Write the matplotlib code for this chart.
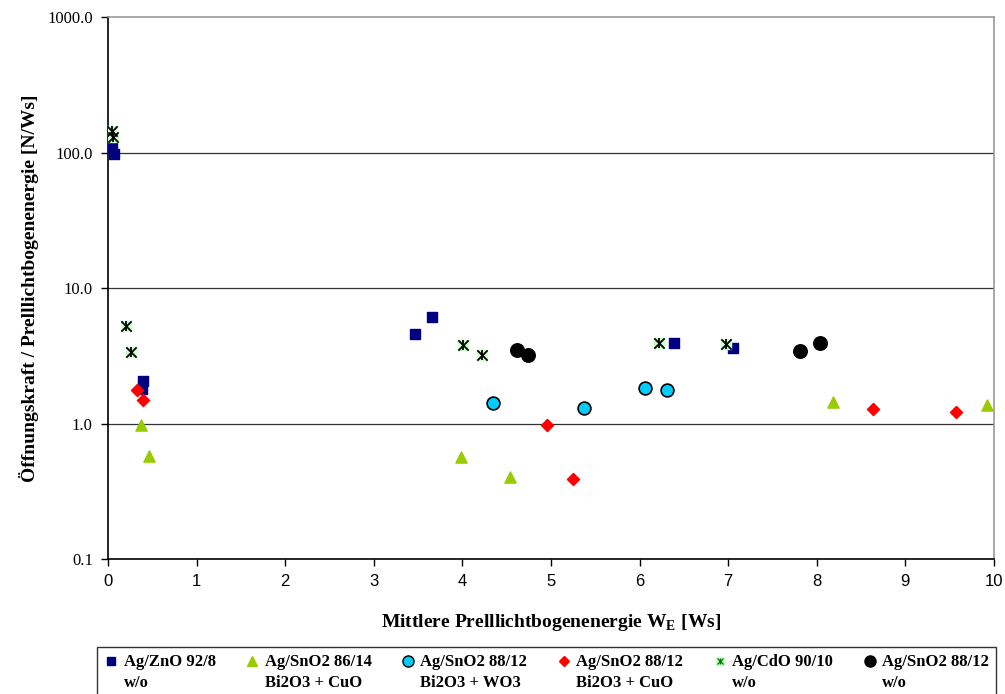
import matplotlib
matplotlib.use("Agg")
import matplotlib.pyplot as plt
from matplotlib.ticker import FixedLocator, NullLocator, FuncFormatter
from matplotlib.lines import Line2D
from matplotlib.legend_handler import HandlerLine2D
from matplotlib.transforms import Affine2D

SERIF = "Liberation Serif"
SANS = "Liberation Sans"

# Ag/ZnO 92/8 w/o
zno_x = [0.05, 0.07, 0.40, 0.38, 3.47, 3.66, 6.39, 7.05]
zno_y = [108, 97, 2.05, 1.80, 4.6, 6.1, 3.9, 3.6]

# Ag/SnO2 86/14 Bi2O3 + CuO
sno2_86_x = [0.37, 0.46, 3.98, 4.54, 8.18, 9.92]
sno2_86_y = [0.97, 0.58, 0.57, 0.40, 1.45, 1.38]

# Ag/SnO2 88/12 Bi2O3 + WO3
sno2_wo3_x = [4.34, 5.37, 6.06, 6.31]
sno2_wo3_y = [1.41, 1.31, 1.82, 1.76]

# Ag/SnO2 88/12 Bi2O3 + CuO
sno2_cuo_x = [0.33, 0.40, 4.95, 5.25, 8.64, 9.57]
sno2_cuo_y = [1.78, 1.49, 0.98, 0.39, 1.28, 1.22]

# Ag/CdO 90/10 w/o
cdo_x = [0.04, 0.06, 0.20, 0.26, 4.01, 4.22, 6.22, 6.97]
cdo_y = [145, 130, 5.2, 3.35, 3.8, 3.2, 3.95, 3.85]

# Ag/SnO2 88/12 w/o
sno2_wo_x = [4.62, 4.74, 7.81, 8.04]
sno2_wo_y = [3.5, 3.2, 3.4, 3.95]

labels = [
    "Ag/ZnO 92/8\nw/o",
    "Ag/SnO2 86/14\nBi2O3 + CuO",
    "Ag/SnO2 88/12\nBi2O3 + WO3",
    "Ag/SnO2 88/12\nBi2O3 + CuO",
    "Ag/CdO 90/10\nw/o",
    "Ag/SnO2 88/12\nw/o",
]

y_ticks = [0.1, 1, 10, 100, 1000]
x_ticks = list(range(0, 11))


class TopHandler(HandlerLine2D):
    # put the legend marker next to the first text line, like Excel does
    def create_artists(self, legend, orig_handle, xdescent, ydescent,
                       width, height, fontsize, trans):
        shifted = Affine2D().translate(0, 8.5) + trans
        return super().create_artists(legend, orig_handle, xdescent, ydescent,
                                      width, height, fontsize, shifted)


fig = plt.figure(figsize=(10.05, 6.94), dpi=100)
ax = fig.add_axes([0.1075, 0.1945, 0.8815, 0.781])

ax.set_yscale("log")
ax.set_xlim(0, 10)
ax.set_ylim(0.1, 1000)

for y in [1, 10, 100]:
    ax.axhline(y, color="#333333", linewidth=0.9, zorder=1)

ax.scatter(zno_x, zno_y, marker="s", s=60, color="#000080", zorder=3)
ax.scatter(sno2_86_x, sno2_86_y, marker="^", s=65, color="#99CC00", zorder=3)
ax.scatter(sno2_wo3_x, sno2_wo3_y, marker="o", s=85, facecolor="#00CCFF",
           edgecolor="black", linewidth=1.2, zorder=3)
ax.scatter(sno2_cuo_x, sno2_cuo_y, marker="D", s=38, color="#FF0000", zorder=3)
ax.scatter(cdo_x, cdo_y, marker="s", s=60, color="#CCFFCC", zorder=3)
ax.scatter(cdo_x, cdo_y, marker="x", s=55, color="black", linewidth=1.3, zorder=4)
ax.scatter(cdo_x, cdo_y, marker="|", s=55, color="black", linewidth=1.3, zorder=4)
ax.scatter(sno2_wo_x, sno2_wo_y, marker="o", s=95, color="black", zorder=3)

ax.yaxis.set_major_locator(FixedLocator(y_ticks))
ax.yaxis.set_minor_locator(NullLocator())
ax.yaxis.set_major_formatter(FuncFormatter(lambda v, p: f"{v:.1f}"))
ax.set_xticks(x_ticks)

for lbl in ax.get_yticklabels():
    lbl.set_fontfamily(SERIF)
    lbl.set_fontsize(12)
for lbl in ax.get_xticklabels():
    lbl.set_fontfamily(SANS)
    lbl.set_fontsize(12)

ax.tick_params(axis="both", direction="out", length=5, width=1, color="black", pad=6)

ax.spines["left"].set_color("black")
ax.spines["bottom"].set_color("black")
ax.spines["top"].set_color("#999999")
ax.spines["right"].set_color("#999999")
for sp in ax.spines.values():
    sp.set_linewidth(1.2)

ax.set_xlabel("Mittlere Prelllichtbogenenergie W$_\\mathregular{E}$ [Ws]",
              fontfamily=SERIF, fontsize=14, fontweight="bold", labelpad=16)
ax.set_ylabel("Öffnungskraft / Prelllichtbogenenergie [N/Ws]",
              fontfamily=SERIF, fontsize=14, fontweight="bold", labelpad=6)

handles = [
    Line2D([], [], linestyle="none", marker="s", markersize=6, color="#000080"),
    Line2D([], [], linestyle="none", marker="^", markersize=7, color="#99CC00"),
    Line2D([], [], linestyle="none", marker="o", markersize=8,
           markerfacecolor="#00CCFF", markeredgecolor="black"),
    Line2D([], [], linestyle="none", marker="D", markersize=5, color="#FF0000"),
    (Line2D([], [], linestyle="none", marker="s", markersize=6, color="#CCFFCC"),
     Line2D([], [], linestyle="none", marker="x", markersize=5, color="#008000"),
     Line2D([], [], linestyle="none", marker="|", markersize=5, color="#008000")),
    Line2D([], [], linestyle="none", marker="o", markersize=8, color="black"),
]

leg = fig.legend(handles, labels, loc="upper left",
                 bbox_to_anchor=(0.0965, 0.0, 0.895, 0.068), mode="expand",
                 ncol=6, frameon=True, fancybox=False, edgecolor="black",
                 prop={"family": SERIF, "weight": "bold", "size": 12},
                 handlelength=0.8, handletextpad=0.35, columnspacing=1.0,
                 borderpad=0.45, labelspacing=0.2, borderaxespad=0,
                 handler_map={Line2D: TopHandler()})
for t in leg.get_texts():
    t.set_linespacing(1.35)
leg.get_frame().set_linewidth(1.0)

fig.savefig("out.png", dpi=100)
